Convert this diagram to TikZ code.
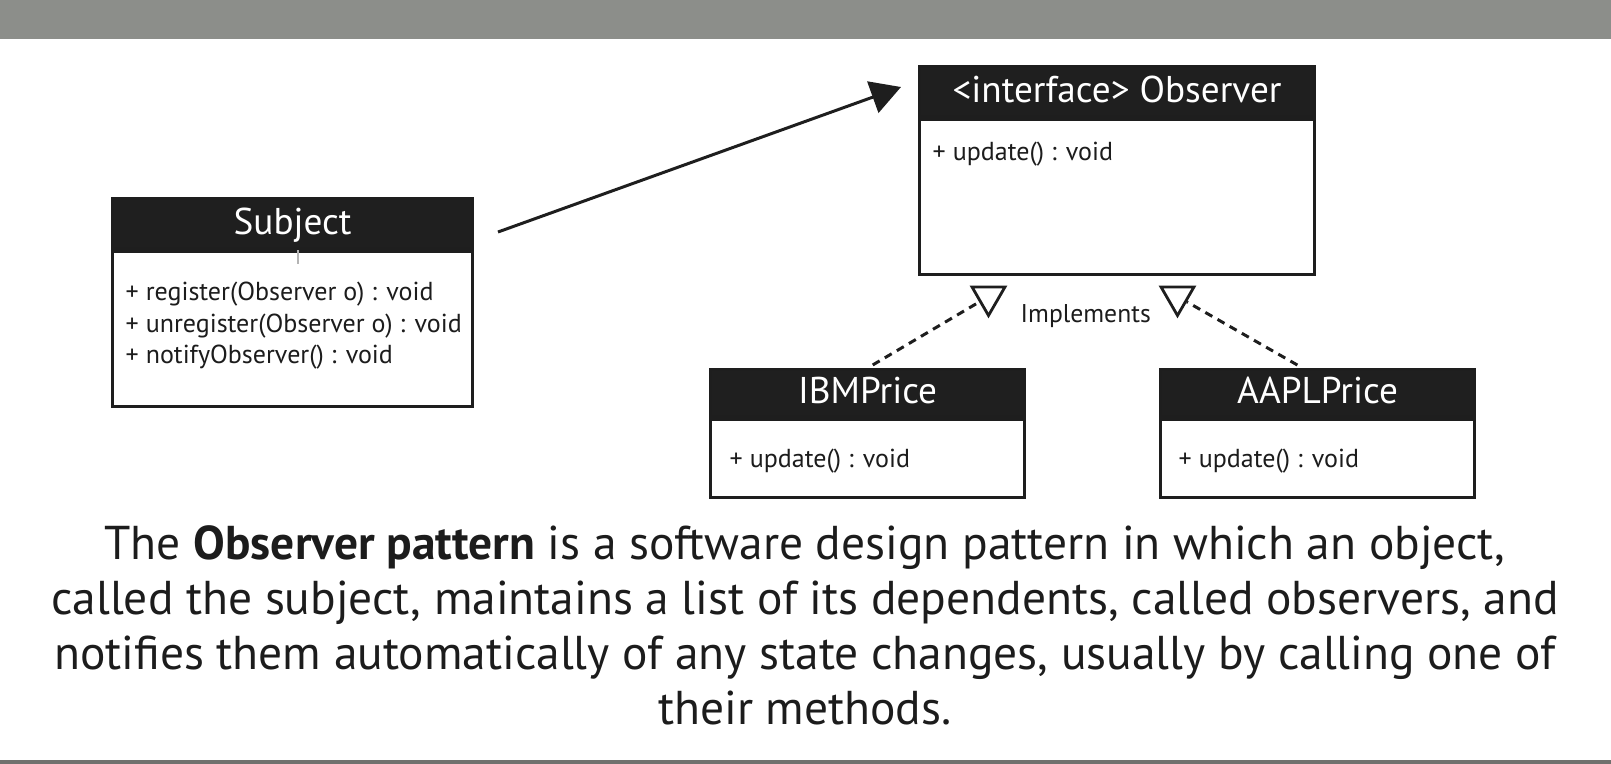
\documentclass[tikz,border=0pt]{standalone}
\usepackage{fontspec}
\setmainfont{PT Sans}
\usetikzlibrary{arrows.meta,positioning,shapes.geometric}
\definecolor{umlline}{HTML}{1E1E1E}
\definecolor{umlhead}{HTML}{1F1F1F}
\definecolor{umltext}{HTML}{1C1C1C}
\definecolor{topbar}{HTML}{8C8E8A}
\definecolor{tickgray}{HTML}{B4B4B4}

\begin{document}
\begin{tikzpicture}[x=0.1mm,y=-0.1mm]
\tikzset{
  classhead/.style={rectangle,draw=umlline,fill=umlhead,line width=0.9pt,text=white,inner sep=0pt,
    text height=7.5pt,text depth=1.5pt,font=\fontsize{10.6}{12}\selectfont},
  classbody/.style={rectangle,draw=umlline,fill=white,line width=0.9pt,inner sep=0pt},
  members/.style={anchor=base west,inner sep=0pt,text=umltext,font=\fontsize{7.4}{9}\selectfont},
  realtip/.style={regular polygon,regular polygon sides=3,shape border rotate=180,draw=umlline,
    line width=0.8pt,fill=white,inner sep=0pt,minimum size=3.8mm},
  assoc/.style={-{Triangle[length=3mm,width=3.3mm]},line width=0.85pt,draw=umlline},
  realize/.style={dash pattern=on 0.8mm off 0.6mm,line width=0.85pt,draw=umlline}
}
\useasboundingbox (0,0) rectangle (1611,764);
\fill[topbar] (0,0) rectangle (1611,39);
\fill[topbar!80!black] (0,760) rectangle (1611,764);

% Subject
\node[classhead,minimum width=36.0mm,minimum height=5.0mm,anchor=north west] (subj) at (111,197) {Subject};
\node[classbody,minimum width=36.0mm,minimum height=15.5mm,anchor=north] (subjbody) at (subj.south) {};
\node[members] (subjop1) at (125,300) {+ register(Observer o) : void};
\node[members] (subjop2) at (125,332) {+ unregister(Observer o) : void};
\node[members] (subjop3) at (125,363) {+ notifyObserver() : void};
\draw[tickgray,line width=0.5pt] (298,250) -- (298,264);

% Observer
\node[classhead,minimum width=39.5mm,minimum height=5.0mm,anchor=north west] (obs) at (918,65) {<interface> Observer};
\node[classbody,minimum width=39.5mm,minimum height=15.5mm,anchor=north] (obsbody) at (obs.south) {};
\node[members] (obsop1) at (932,160) {+ update() : void};

% IBMPrice
\node[classhead,minimum width=31.4mm,minimum height=4.7mm,anchor=north west] (ibm) at (709,368) {IBMPrice};
\node[classbody,minimum width=31.4mm,minimum height=7.8mm,anchor=north] (ibmbody) at (ibm.south) {};
\node[members] (ibmop1) at (729,467) {+ update() : void};

% AAPLPrice
\node[classhead,minimum width=31.4mm,minimum height=4.7mm,anchor=north west] (aapl) at (1159,368) {AAPLPrice};
\node[classbody,minimum width=31.4mm,minimum height=7.8mm,anchor=north] (aaplbody) at (aapl.south) {};
\node[members] (aaplop1) at (1178,467) {+ update() : void};

% association
\coordinate (subjout) at (498,232);
\coordinate (obsin) at (901,87);
\draw[assoc] (subjout) -- (obsin);

% realization
\node[realtip] (tri_l) at (988.5,296.5) {};
\node[realtip] (tri_r) at (1177.5,296.5) {};
\node[members,font=\fontsize{7.3}{9}\selectfont] (impl) at (1020,322) {Implements};
\draw[realize,shorten <=0.6mm] (ibm.north) -- (tri_l);
\draw[realize,shorten <=0.6mm] ([xshift=-1.5mm]aapl.north) -- (tri_r);

% description
\node[anchor=north,align=center,inner sep=0pt,text=umltext,font=\fontsize{13.5}{15.65}\selectfont] (summary) at (805,525)
  {The \textbf{Observer pattern} is a software design pattern in which an object,\\
   called the subject, maintains a list of its dependents, called observers, and\\
   notifies them automatically of any state changes, usually by calling one of\\
   their methods.};
\end{tikzpicture}
\end{document}
